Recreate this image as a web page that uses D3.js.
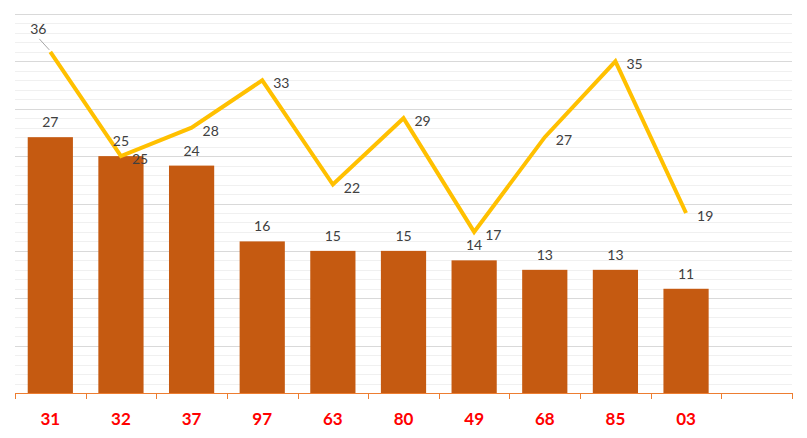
<!DOCTYPE html>
<html lang="en">
<head>
<meta charset="UTF-8">
<title>chart</title>
<script src="https://d3js.org/d3.v7.min.js"></script>
<style>
body { margin: 0; background: #fff; }
.lbl { font-family: Lato, "Liberation Sans", Arial, sans-serif; font-size: 14px; fill: #404040; }
.xaxis text { font-family: Lato, "Liberation Sans", Arial, sans-serif; font-size: 17px; font-weight: bold; fill: #ff0000; }
</style>
</head>
<body>
<script>
// data
var categories = ["31", "32", "37", "97", "63", "80", "49", "68", "85", "03", ""];
var barValues = [27, 25, 24, 16, 15, 15, 14, 13, 13, 11];
var lineValues = [36, 25, 28, 33, 22, 29, 17, 27, 35, 19];

var width = 807, height = 438;
var plotLeft = 15, plotRight = 792, plotTop = 14, plotBottom = 393;

var svg = d3.select('body').append('svg')
    .attr('width', width)
    .attr('height', height);

var x = d3.scaleBand()
    .domain(d3.range(categories.length))
    .range([plotLeft, plotRight])
    .paddingInner(0.36)
    .paddingOuter(0.18);

var y = d3.scaleLinear()
    .domain([0, 40])
    .range([plotBottom, plotTop]);

var cx = function(i){ return x(i) + x.bandwidth() / 2; };

// minor gridlines
svg.append('g')
    .selectAll('line')
    .data(d3.range(1, 41).filter(function(d){ return d % 5 !== 0; }))
    .enter().append('line')
    .attr('x1', plotLeft).attr('x2', plotRight)
    .attr('y1', function(d){ return Math.round(y(d)) + 0.5; })
    .attr('y2', function(d){ return Math.round(y(d)) + 0.5; })
    .attr('stroke', '#f0f0f0');

// major gridlines
svg.append('g')
    .selectAll('line')
    .data(d3.range(5, 41, 5))
    .enter().append('line')
    .attr('x1', plotLeft).attr('x2', plotRight)
    .attr('y1', function(d){ return Math.round(y(d)) + 0.5; })
    .attr('y2', function(d){ return Math.round(y(d)) + 0.5; })
    .attr('stroke', '#d9d9d9');

// bars
svg.append('g')
    .selectAll('rect')
    .data(barValues)
    .enter().append('rect')
    .attr('x', function(d, i){ return x(i); })
    .attr('y', function(d){ return y(d); })
    .attr('width', x.bandwidth())
    .attr('height', function(d){ return plotBottom - y(d); })
    .attr('fill', '#c55a11');

// x axis with ticks at slot boundaries
var n = categories.length;
var ax = svg.append('g').attr('class', 'xaxis');
ax.append('line')
    .attr('x1', plotLeft).attr('x2', plotRight)
    .attr('y1', plotBottom + 0.5).attr('y2', plotBottom + 0.5)
    .attr('stroke', '#ed7d31');
ax.selectAll('line.tick')
    .data(d3.range(n + 1))
    .enter().append('line')
    .attr('class', 'tick')
    .attr('x1', function(d){ return Math.round(plotLeft + d * (plotRight - plotLeft) / n) + 0.5; })
    .attr('x2', function(d){ return Math.round(plotLeft + d * (plotRight - plotLeft) / n) + 0.5; })
    .attr('y1', plotBottom).attr('y2', plotBottom + 6)
    .attr('stroke', '#ed7d31');
ax.selectAll('text')
    .data(categories)
    .enter().append('text')
    .attr('x', function(d, i){ return cx(i); })
    .attr('y', 425)
    .attr('text-anchor', 'middle')
    .text(function(d){ return d; });

// line
var line = d3.line()
    .x(function(d, i){ return cx(i); })
    .y(function(d){ return y(d); });

svg.append('path')
    .datum(lineValues)
    .attr('d', line)
    .attr('fill', 'none')
    .attr('stroke', '#ffc000')
    .attr('stroke-width', 4)
    .attr('stroke-linejoin', 'miter');

// bar labels
svg.append('g')
    .selectAll('text')
    .data(barValues)
    .enter().append('text')
    .attr('class', 'lbl')
    .attr('x', function(d, i){ return cx(i); })
    .attr('y', function(d){ return y(d) - 10; })
    .attr('text-anchor', 'middle')
    .text(function(d){ return d; });

// line labels
svg.append('g')
    .selectAll('text')
    .data(lineValues)
    .enter().append('text')
    .attr('class', 'lbl')
    .attr('x', function(d, i){ return i === 0 ? cx(i) - 12 : cx(i) + 11; })
    .attr('y', function(d, i){ return i === 0 ? y(d) - 18 : y(d) + 8; })
    .attr('text-anchor', function(d, i){ return i === 0 ? 'middle' : 'start'; })
    .text(function(d){ return d; });

// leader line for first label
svg.append('line')
    .attr('x1', cx(0) - 11).attr('y1', y(lineValues[0]) - 13)
    .attr('x2', cx(0) - 1).attr('y2', y(lineValues[0]) - 2)
    .attr('stroke', '#a6a6a6')
    .attr('stroke-width', 1);
</script>
</body>
</html>
